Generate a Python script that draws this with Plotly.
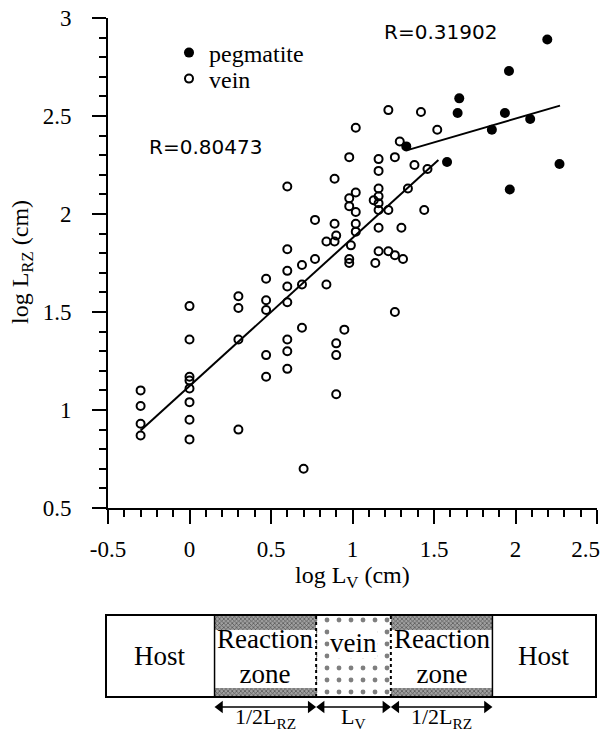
import numpy as np
import plotly.graph_objects as go

# ---------------- data ----------------
vein_x = [-0.3, -0.3, -0.3, -0.3,
          0, 0, 0, 0, 0, 0, 0, 0,
          0.3, 0.3, 0.3, 0.3,
          0.47, 0.47, 0.47, 0.47, 0.47,
          0.6, 0.6, 0.6, 0.6, 0.6, 0.6, 0.6, 0.6,
          0.69, 0.69, 0.69, 0.7,
          0.77, 0.77,
          0.84, 0.84,
          0.89, 0.89, 0.9, 0.89, 0.9, 0.9, 0.9,
          0.95,
          0.98, 0.98, 0.98, 0.99, 0.98, 0.98,
          1.02, 1.02, 1.02, 1.02, 1.02,
          1.13, 1.14,
          1.16, 1.16, 1.16, 1.16, 1.16, 1.16, 1.16, 1.16,
          1.22, 1.22, 1.22,
          1.26, 1.26, 1.26,
          1.29,
          1.30, 1.31,
          1.34, 1.38, 1.42, 1.44, 1.46, 1.52]
vein_y = [1.10, 1.02, 0.93, 0.87,
          1.53, 1.36, 1.17, 1.15, 1.11, 1.04, 0.95, 0.85,
          1.58, 1.52, 1.36, 0.90,
          1.67, 1.56, 1.51, 1.28, 1.17,
          2.14, 1.82, 1.71, 1.63, 1.55, 1.36, 1.30, 1.21,
          1.74, 1.64, 1.42, 0.70,
          1.97, 1.77,
          1.86, 1.64,
          2.18, 1.95, 1.89, 1.86, 1.34, 1.28, 1.08,
          1.41,
          2.29, 2.08, 2.04, 1.84, 1.77, 1.75,
          2.44, 2.11, 2.01, 1.95, 1.91,
          2.07, 1.75,
          2.28, 2.22, 2.13, 2.09, 2.055, 2.02, 1.93, 1.81,
          2.53, 2.02, 1.81,
          2.29, 1.79, 1.50,
          2.37,
          1.93, 1.77,
          2.13, 2.25, 2.52, 2.02, 2.23, 2.43]

peg_x = [1.33, 1.58, 1.645, 1.655, 1.855, 1.935, 1.96, 1.965, 2.09, 2.195, 2.27]
peg_y = [2.345, 2.265, 2.515, 2.59, 2.43, 2.515, 2.73, 2.125, 2.485, 2.89, 2.255]

vein_fit_x = [-0.3, 1.527]
vein_fit_y = [0.895, 2.276]
peg_fit_x = [1.342, 2.273]
peg_fit_y = [2.327, 2.553]

r_vein = "R=0.80473"
r_peg = "R=0.31902"
r_vein_pos = (0.10, 2.34)
r_peg_pos = (1.54, 2.93)

x_tickvals = [-0.5, 0, 0.5, 1, 1.5, 2, 2.5]
# the last label is padded so that it stays inside the page edge
x_ticktext = ["-0.5", "0", "0.5", "1", "1.5", "2", "2.5\u2007\u2007"]
y_tickvals = [0.5, 1, 1.5, 2, 2.5, 3]
y_ticktext = ["0.5", "1", "1.5", "2", "2.5", "3"]

# schematic below the chart
segment_names = ["Host", "Reaction<br>zone", "vein", "Reaction<br>zone", "Host"]
segment_kinds = ["host", "rz", "vein", "rz", "host"]
segment_widths = [109, 102, 75, 102, 104]
span_labels = ["1/2L<sub>RZ</sub>", "L<sub>V</sub>", "1/2L<sub>RZ</sub>"]

# ---------------- layout constants ----------------
# the page body keeps its default 8px margin, so the figure is 16px smaller than the window
OFF = 8
W, H = 610 - 2 * OFF, 740 - 2 * OFF
SERIF = "Liberation Serif"
SANS = "DejaVu Sans"


def fx(px):
    return (px - OFF) / W


def fy(py):
    return 1 - (py - OFF) / H


# schematic vertical units: pixels above the bottom of the figure (window y = 732)
BOT = 740 - OFF
box_bottom, box_top = BOT - 697, BOT - 615
arrow_y, label_y = BOT - 707, BOT - 718
band_top_h, band_bot_h = 15, 9
head = 11

starts = np.concatenate([[0], np.cumsum(segment_widths)[:-1]])
total = float(np.sum(segment_widths))
box_mid = (box_bottom + box_top) / 2

fig = go.Figure()

fig.add_trace(go.Scatter(
    x=peg_x, y=peg_y, mode="markers", name="pegmatite", legend="legend",
    marker=dict(symbol="circle", size=10, color="black"),
))
fig.add_trace(go.Scatter(
    x=vein_x, y=vein_y, mode="markers", name="vein", legend="legend2",
    marker=dict(symbol="circle-open", size=8, color="black", line=dict(width=2, color="black")),
))
fig.add_trace(go.Scatter(x=vein_fit_x, y=vein_fit_y, mode="lines",
                         line=dict(color="black", width=2), showlegend=False, hoverinfo="skip"))
fig.add_trace(go.Scatter(x=peg_fit_x, y=peg_fit_y, mode="lines",
                         line=dict(color="black", width=2), showlegend=False, hoverinfo="skip"))

# schematic bars (patterns)
for s, w, kind in zip(starts, segment_widths, segment_kinds):
    if kind == "vein":
        fig.add_trace(go.Bar(
            orientation="h", base=[s], x=[w], y=[box_mid], width=[box_top - box_bottom],
            xaxis="x2", yaxis="y2", showlegend=False, hoverinfo="skip",
            marker=dict(color="white", line=dict(width=0),
                        pattern=dict(shape=".", fgcolor="black", bgcolor="white",
                                     size=12, solidity=0.13)),
        ))
    elif kind == "rz":
        for yc, hh in [(box_top - band_top_h / 2, band_top_h), (box_bottom + band_bot_h / 2, band_bot_h)]:
            fig.add_trace(go.Bar(
                orientation="h", base=[s], x=[w], y=[yc], width=[hh],
                xaxis="x2", yaxis="y2", showlegend=False, hoverinfo="skip",
                marker=dict(color="#9a9a9a", line=dict(width=0),
                            pattern=dict(shape="x", fgcolor="black", bgcolor="#a0a0a0",
                                         size=3, solidity=0.4)),
            ))

# span arrows (line + triangular heads)
for i in [1, 2, 3]:
    a0, a1 = starts[i], starts[i] + segment_widths[i]
    fig.add_trace(go.Scatter(x=[a0 + 3, a1 - 3], y=[arrow_y, arrow_y], mode="lines",
                             xaxis="x2", yaxis="y2", line=dict(color="black", width=1.5),
                             showlegend=False, hoverinfo="skip"))
    fig.add_trace(go.Scatter(x=[a0 + head / 2, a1 - head / 2], y=[arrow_y, arrow_y], mode="markers",
                             xaxis="x2", yaxis="y2",
                             marker=dict(symbol=["triangle-left", "triangle-right"], size=head,
                                         color="black", line=dict(width=0)),
                             showlegend=False, hoverinfo="skip"))

shapes = [dict(type="rect", xref="x2", yref="y2", x0=0, x1=total, y0=box_bottom, y1=box_top,
               line=dict(color="black", width=2))]
for i in range(1, len(segment_widths)):
    kinds = (segment_kinds[i - 1], segment_kinds[i])
    dotted = "vein" in kinds
    shapes.append(dict(type="line", xref="x2", yref="y2", x0=starts[i], x1=starts[i],
                       y0=box_bottom, y1=box_top,
                       line=dict(color="black", width=2 if dotted else 1.5,
                                 dash="dot" if dotted else "solid")))

annotations = []
for s, w, name, kind in zip(starts, segment_widths, segment_names, segment_kinds):
    yc = box_mid + (13 if kind == "vein" else 0)
    annotations.append(dict(x=s + w / 2, y=yc, xref="x2", yref="y2", text=name, showarrow=False,
                            xanchor="center", yanchor="middle",
                            bgcolor="white" if kind == "vein" else None, borderpad=0,
                            font=dict(family=SERIF, size=27, color="black")))

for j, i in enumerate([1, 2, 3]):
    a0, a1 = starts[i], starts[i] + segment_widths[i]
    annotations.append(dict(x=(a0 + a1) / 2, y=label_y, xref="x2", yref="y2",
                            text=span_labels[j], showarrow=False,
                            xanchor="center", yanchor="middle",
                            font=dict(family=SERIF, size=22, color="black")))

annotations.append(dict(x=r_vein_pos[0], y=r_vein_pos[1], xref="x", yref="y", text=r_vein,
                        showarrow=False, xanchor="center", yanchor="middle",
                        font=dict(family=SANS, size=20, color="black")))
annotations.append(dict(x=r_peg_pos[0], y=r_peg_pos[1], xref="x", yref="y", text=r_peg,
                        showarrow=False, xanchor="center", yanchor="middle",
                        font=dict(family=SANS, size=20, color="black")))

annotations.append(dict(x=fx(22), y=fy(262), xref="paper", yref="paper",
                        text="log L<sub>RZ</sub> (cm)", textangle=-90, showarrow=False,
                        xanchor="center", yanchor="middle",
                        font=dict(family=SERIF, size=24, color="black")))
annotations.append(dict(x=fx(352), y=fy(577), xref="paper", yref="paper",
                        text="log L<sub>V</sub> (cm)", showarrow=False,
                        xanchor="center", yanchor="middle",
                        font=dict(family=SERIF, size=24, color="black")))

axis_common = dict(showgrid=False, zeroline=False, showline=True, linecolor="black",
                   linewidth=2, ticks="outside", ticklen=14, tickwidth=2, tickcolor="black",
                   automargin=False, ticklabeloverflow="allow",
                   tickfont=dict(family=SERIF, size=23, color="black"))

legend_common = dict(xanchor="left", yanchor="middle", bgcolor="rgba(0,0,0,0)",
                     font=dict(family=SERIF, size=24, color="black"),
                     itemwidth=30, tracegroupgap=0, borderwidth=0)

fig.update_layout(
    width=W, height=H,
    autosize=False,
    margin=dict(l=0, r=0, t=0, b=0, pad=0, autoexpand=False),
    paper_bgcolor="white", plot_bgcolor="white",
    barmode="overlay", bargap=0,
    xaxis=dict(domain=[fx(108), fx(597)], range=[-0.5, 2.5], anchor="y",
               tickvals=x_tickvals, ticktext=x_ticktext, ticklabelstandoff=5,
               minor=dict(dtick=0.1, tick0=-0.5, ticks="outside", ticklen=7, tickwidth=2,
                          tickcolor="black", showgrid=False),
               **axis_common),
    yaxis=dict(domain=[fy(508), fy(18)], range=[0.5, 3], anchor="x",
               tickvals=y_tickvals, ticktext=y_ticktext, ticklabelstandoff=16,
               minor=dict(dtick=0.1, tick0=0.5, ticks="outside", ticklen=7, tickwidth=2,
                          tickcolor="black", showgrid=False),
               **axis_common),
    xaxis2=dict(domain=[fx(105), fx(597)], range=[-1, total + 1], anchor="y2", visible=False,
                fixedrange=True, automargin=False),
    yaxis2=dict(domain=[0, 130 / H], range=[0, 130], anchor="x2", visible=False,
                fixedrange=True, automargin=False),
    shapes=shapes,
    annotations=annotations,
    showlegend=True,
    legend=dict(x=fx(169), y=fy(53), **legend_common),
    legend2=dict(x=fx(169), y=fy(79), **legend_common),
)

fig.write_html("out.html")
